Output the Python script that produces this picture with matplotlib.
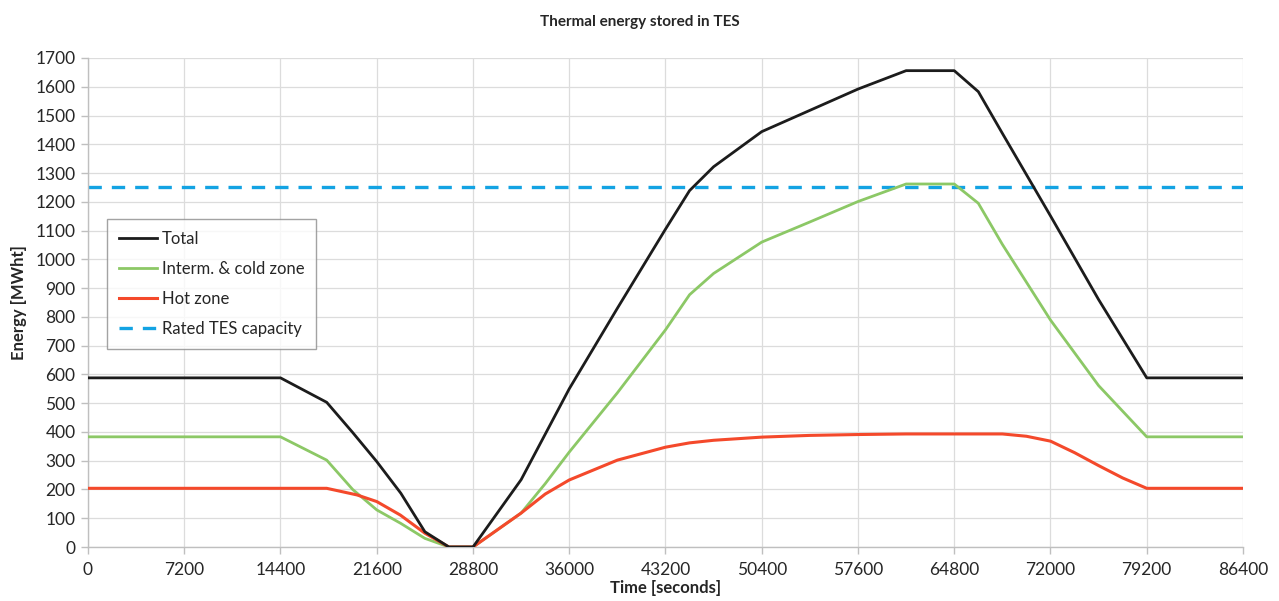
import matplotlib
matplotlib.use("Agg")
import matplotlib.pyplot as plt
import numpy as np

plt.rcParams['font.family'] = ['Lato', 'DejaVu Sans']

# time in hours (converted to seconds below)
hours = [0, 4, 4.96, 5.5, 6, 6.5, 7, 7.5, 8, 9, 9.5, 10, 11, 12, 12.5, 13, 14, 15, 16,
         17, 18, 18.5, 19, 20, 21, 22, 24]
total = [588, 588, 503, 398, 297, 187, 53, 0, 0, 234, 392, 550, 830, 1105, 1239, 1322, 1444,
         1518, 1592, 1656, 1656, 1583, 1438, 1151, 860, 588, 588]
interm_cold = [383, 383, 302, 200, 129, 82, 30, 0, 0, 118, 220, 330, 536, 755, 877, 951,
               1060, 1130, 1201, 1262, 1262, 1195, 1052, 789, 561, 383, 383]
hot_hours = [0, 4, 4.96, 5.59, 6, 6.49, 7, 7.5, 8, 9, 9.5, 10, 11, 12, 12.5, 13, 14, 15, 16,
             17, 18, 19, 19.5, 20, 20.5, 21, 21.5, 22, 24]
hot = [204, 204, 204, 181, 158, 111, 48, 0, 0, 118, 184, 233, 302, 347, 362, 371, 382, 388,
       391, 393, 393, 393, 385, 368, 328, 283, 240, 204, 204]
rated_capacity = 1250

x_ticks = list(range(0, 86401, 7200))
y_ticks = list(range(0, 1701, 100))

t = np.array(hours) * 3600
t_hot = np.array(hot_hours) * 3600

fig = plt.figure(figsize=(12.79, 6.01), dpi=100)
ax = fig.add_axes([88/1279, 1-547/601, (1243-88)/1279, (547-58)/601])

c_black = '#1c1c1c'
c_green = '#8cc866'
c_red = '#f4492b'
c_blue = '#13a3e3'

ax.plot(t, total, color=c_black, lw=2.0, label='Total', zorder=4)
ax.plot(t, interm_cold, color=c_green, lw=2.0, label='Interm. & cold zone', zorder=3)
ax.plot(t_hot, hot, color=c_red, lw=2.2, label='Hot zone', zorder=3.5)
ax.axhline(rated_capacity, color=c_blue, lw=2.4, ls=(0, (4.0, 3.0)), label='Rated TES capacity', zorder=2)

ax.set_xlim(0, 86400)
ax.set_ylim(0, 1700)
ax.set_xticks(x_ticks)
ax.set_xticklabels([str(v) for v in x_ticks])
ax.set_yticks(y_ticks)
ax.set_yticklabels([str(v) for v in y_ticks])

ax.grid(True, color='#dcdcdc', lw=0.9)
ax.set_axisbelow(True)
for s in ['top', 'right']:
    ax.spines[s].set_visible(False)
for s in ['left', 'bottom']:
    ax.spines[s].set_color('#bfbfbf')
    ax.spines[s].set_linewidth(1.0)
ax.tick_params(axis='both', colors='#bfbfbf', labelcolor='#262626', labelsize=12.5, length=5, width=1.0)
ax.tick_params(axis='x', pad=6)
ax.tick_params(axis='y', pad=4)

ax.set_xlabel('Time [seconds]', fontsize=12, fontweight='bold', color='#262626', labelpad=1)
ax.set_ylabel('Energy [MWht]', fontsize=12, fontweight='bold', color='#262626', labelpad=6)
fig.text(0.5, 1-22/601, 'Thermal energy stored in TES', ha='center', va='center',
         fontsize=11, fontweight='bold', color='#262626')

leg = ax.legend(loc='upper left', bbox_to_anchor=((107-88)/1155, (547-219)/489), fontsize=12,
                frameon=True, fancybox=False, edgecolor='#8c8c8c', handlelength=2.3,
                handletextpad=0.3, labelspacing=0.85, borderpad=0.7, borderaxespad=0)
leg.get_frame().set_linewidth(1.0)
for txt in leg.get_texts():
    txt.set_color('#262626')

fig.savefig('out.png', dpi=100)
